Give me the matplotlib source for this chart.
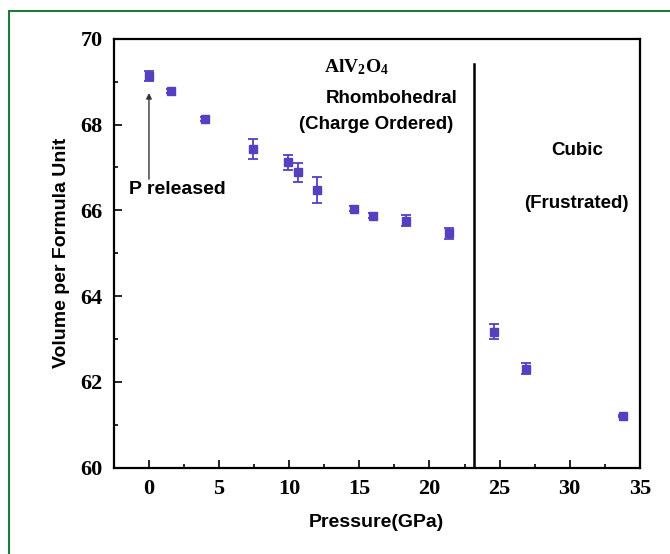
import matplotlib.pyplot as plt
from matplotlib.patches import Rectangle

# pressure (GPa), volume per formula unit and error bars
pressure = [0.0, 1.6, 4.0, 7.4, 9.9, 10.6, 12.0, 14.6, 16.0, 18.3, 21.4, 24.6, 26.9, 33.8]
volume = [69.14, 68.78, 68.13, 67.43, 67.12, 66.89, 66.48, 66.04, 65.87, 65.76, 65.46, 63.17, 62.31, 61.20]
volume_err = [0.12, 0.05, 0.05, 0.24, 0.17, 0.22, 0.30, 0.06, 0.06, 0.13, 0.12, 0.18, 0.12, 0.03]

transition = 23.2

serif = "Liberation Serif"
sans = "Liberation Sans"

# serif maths text for the formula
plt.rcParams["mathtext.fontset"] = "custom"
plt.rcParams["mathtext.rm"] = serif
plt.rcParams["mathtext.bf"] = serif + ":bold"

fig = plt.figure(figsize=(6.7, 5.54), dpi=100)
ax = fig.add_axes([0.170, 0.156, 0.785, 0.774])

# thin green frame around the whole figure
fig.patches.append(Rectangle((9 / 670, -0.05), 1.0, 1 - 11 / 554 + 0.05,
                             transform=fig.transFigure, fill=False,
                             edgecolor="#1f7a3c", lw=1.5))

ax.errorbar(pressure, volume, yerr=volume_err, fmt="s", color="#5540c0",
            ms=5.5, capsize=3.5, elinewidth=1.3, capthick=1.3)

ax.axvline(transition, ymin=0, ymax=0.942, color="black", lw=1.8)

ax.annotate("", xy=(0, 68.8), xytext=(0, 66.66),
            arrowprops=dict(arrowstyle="-|>", color="#333333", lw=1, mutation_scale=8))

ax.text(14.8, 69.35, r"$\mathbf{AlV_2O_4}$", fontsize=14, ha="center", va="center")
ax.text(17.3, 68.6, "Rhombohedral", family=sans, weight="bold", fontsize=13.5,
        ha="center", va="center")
ax.text(16.2, 67.99, "(Charge Ordered)", family=sans, weight="bold", fontsize=13.5,
        ha="center", va="center")
ax.text(30.5, 67.39, "Cubic", family=sans, weight="bold", fontsize=13.5,
        ha="center", va="center")
ax.text(30.5, 66.17, "(Frustrated)", family=sans, weight="bold", fontsize=13.5,
        ha="center", va="center")
ax.text(2.05, 66.48, "P released", family=sans, weight="bold", fontsize=14,
        ha="center", va="center")

ax.set_xlim(-2.5, 35)
ax.set_ylim(60, 70)
ax.set_xticks([0, 5, 10, 15, 20, 25, 30, 35])
ax.set_xticks([2.5, 7.5, 12.5, 17.5, 22.5, 27.5, 32.5], minor=True)
ax.set_yticks([60, 62, 64, 66, 68, 70])
ax.set_yticks([61, 63, 65, 67, 69], minor=True)
ax.tick_params(which="both", direction="in", width=1.2, pad=8)
ax.tick_params(which="major", length=6)
ax.tick_params(which="minor", length=3)
for lab in ax.get_xticklabels() + ax.get_yticklabels():
    lab.set_family(serif)
    lab.set_weight("bold")
    lab.set_fontsize(16)
for s in ax.spines.values():
    s.set_linewidth(1.6)

ax.set_xlabel("Pressure(GPa)", family=sans, weight="bold", fontsize=14)
ax.set_ylabel("Volume per Formula Unit", family=sans, weight="bold", fontsize=14)
ax.xaxis.set_label_coords(0.5, -0.108)
ax.yaxis.set_label_coords(-0.083, 0.5)

fig.savefig("out.png", dpi=100)
